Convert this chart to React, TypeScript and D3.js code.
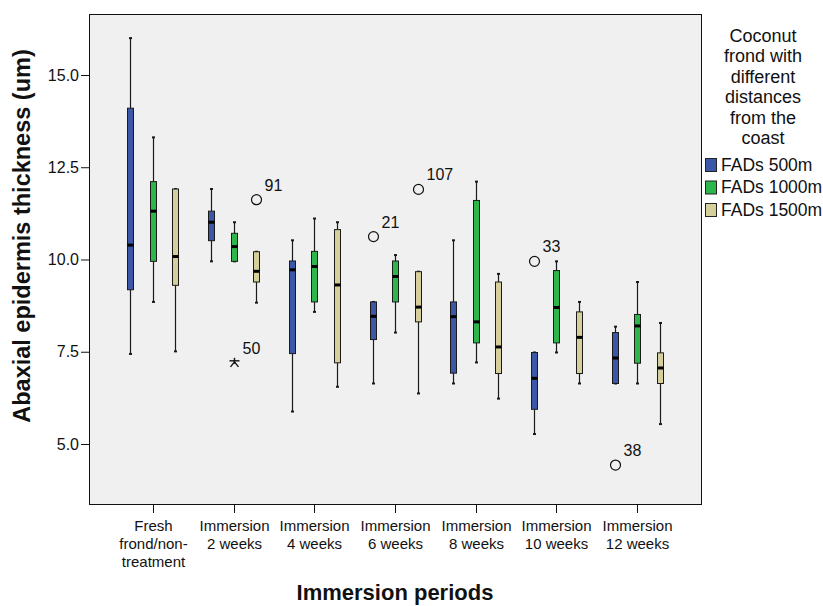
import * as d3 from "d3";
import { useRef, useEffect } from "react";

const categoryLines = [
  ["Fresh", "frond/non-", "treatment"],
  ["Immersion", "2 weeks"],
  ["Immersion", "4 weeks"],
  ["Immersion", "6 weeks"],
  ["Immersion", "8 weeks"],
  ["Immersion", "10 weeks"],
  ["Immersion", "12 weeks"],
];
const categories = categoryLines.map((l) => l.join(" "));

const seriesNames = ["FADs 500m", "FADs 1000m", "FADs 1500m"];
const seriesColors = ["#3c57a7", "#2cb64b", "#d5d09b"];

// [min, q1, median, q3, max] per category
const fads500 = [
  [7.44, 9.18, 10.39, 14.1, 16.0],
  [9.95, 10.51, 11.01, 11.31, 11.91],
  [5.88, 7.45, 9.72, 9.96, 10.52],
  [6.64, 7.83, 8.46, 8.85, 8.85],
  [6.64, 6.92, 8.45, 8.85, 10.52],
  [5.27, 5.94, 6.78, 7.48, 7.48],
  [6.64, 6.64, 7.33, 8.02, 8.18],
];
const fads1000 = [
  [8.85, 9.95, 11.31, 12.11, 13.31],
  [9.95, 9.95, 10.35, 10.71, 11.01],
  [8.58, 8.85, 9.81, 10.22, 11.11],
  [8.02, 8.85, 9.54, 9.96, 10.12],
  [7.21, 7.74, 8.31, 11.6, 12.11],
  [7.48, 7.74, 8.7, 9.7, 9.95],
  [6.64, 7.19, 8.2, 8.51, 9.39],
];
const fads1500 = [
  [7.51, 9.3, 10.08, 11.91, 11.91],
  [8.83, 9.39, 9.68, 10.21, 10.21],
  [6.55, 7.2, 9.31, 10.81, 11.01],
  [6.37, 8.31, 8.71, 9.67, 9.67],
  [6.23, 6.91, 7.63, 9.39, 9.61],
  [6.64, 6.91, 7.89, 8.58, 8.85],
  [5.54, 6.64, 7.06, 7.47, 8.28],
];
const seriesStats = [fads500, fads1000, fads1500];

// outliers: category index, series index, value, case label, kind
const outlierCategory = [1, 1, 3, 3, 5, 6];
const outlierSeries = [2, 1, 0, 2, 0, 0];
const outlierValue = [11.62, 7.2, 10.62, 11.9, 9.95, 4.43];
const outlierLabel = ["91", "50", "21", "107", "33", "38"];
const outlierKind = ["circle", "star", "circle", "circle", "circle", "circle"];

const yTicks = [5, 7.5, 10, 12.5, 15];
const legendTitle = ["Coconut", "frond with", "different", "distances", "from the", "coast"];

const font = "Arial, 'Liberation Sans', sans-serif";

export default function App() {
  const width = 823;
  const height = 606;
  const marginLeft = 89;
  const marginRight = 122;
  const marginTop = 14;
  const marginBottom = 102;

  const x = d3
    .scaleBand(categories, [marginLeft, width - marginRight])
    .paddingOuter(0.29);
  const s = d3.scalePoint(seriesNames, [-22.5, 22.5]);
  const y = d3.scaleLinear([3.374, 16.653], [height - marginBottom, marginTop]);
  const cx = (ci: number, si: number) =>
    Math.round(x(categories[ci])! + x.bandwidth() / 2 + s(seriesNames[si])!);

  const gy = useRef<SVGGElement>(null);
  useEffect(() => {
    const g = d3.select(gy.current!);
    g.call(
      d3
        .axisLeft(y)
        .tickValues(yTicks)
        .tickFormat(d3.format(".1f"))
        .tickSize(8)
        .tickPadding(2)
    );
    g.select(".domain").remove();
    g.selectAll("text")
      .attr("font-size", 16)
      .attr("font-family", font)
      .attr("fill", "#111");
    g.selectAll("line").attr("stroke", "#111");
  }, []);

  const bw = 6;

  return (
    <div style={{ position: "absolute", left: 0, top: 0 }}>
      <svg width={width} height={height} style={{ display: "block", background: "#fff" }}>
        <rect
          x={marginLeft + 0.5}
          y={marginTop + 0.5}
          width={width - marginRight - marginLeft}
          height={height - marginBottom - marginTop}
          fill="#f0f0f0"
          stroke="#111"
          strokeWidth={1}
        />
        <g ref={gy} transform={`translate(${marginLeft},0)`} />

        {/* x ticks and labels */}
        <g fontFamily={font} fontSize={15} fill="#111" textAnchor="middle">
          {categoryLines.map((lines, i) => {
            const px = Math.round(x(categories[i])! + x.bandwidth() / 2) + 0.5;
            return (
              <g key={i}>
                <line
                  x1={px}
                  x2={px}
                  y1={height - marginBottom}
                  y2={height - marginBottom + 9}
                  stroke="#111"
                />
                {lines.map((t, j) => (
                  <text key={j} x={px} y={531 + j * 18}>
                    {t}
                  </text>
                ))}
              </g>
            );
          })}
        </g>

        {/* boxes */}
        {seriesStats.map((stats, si) => (
          <g key={si}>
            {stats.map(([mn, q1, md, q3, mx], ci) => {
              const c = cx(ci, si) + 0.5;
              return (
                <g key={ci} stroke="#1a1a1a">
                  <line x1={c} x2={c} y1={y(q3)} y2={y(mx)} strokeWidth={1.2} />
                  <line x1={c} x2={c} y1={y(q1)} y2={y(mn)} strokeWidth={1.2} />
                  <line x1={c - 1.5} x2={c + 1.5} y1={y(mx)} y2={y(mx)} strokeWidth={2} />
                  <line x1={c - 1.5} x2={c + 1.5} y1={y(mn)} y2={y(mn)} strokeWidth={2} />
                  <rect
                    x={c - bw / 2}
                    y={y(q3)}
                    width={bw}
                    height={y(q1) - y(q3)}
                    fill={seriesColors[si]}
                    strokeWidth={1}
                  />
                  <line
                    x1={c - bw / 2}
                    x2={c + bw / 2}
                    y1={y(md)}
                    y2={y(md)}
                    stroke="#000"
                    strokeWidth={3}
                  />
                </g>
              );
            })}
          </g>
        ))}

        {/* outliers */}
        <g fontFamily={font} fontSize={16} fill="#111">
          {outlierValue.map((v, i) => {
            const c = cx(outlierCategory[i], outlierSeries[i]) + 0.5;
            const py = y(v);
            return (
              <g key={i}>
                {outlierKind[i] === "circle" ? (
                  <circle cx={c} cy={py} r={5} fill="none" stroke="#111" strokeWidth={1.2} />
                ) : (
                  <g stroke="#111" strokeWidth={1.4}>
                    <line x1={c} x2={c} y1={py - 5} y2={py + 1} />
                    <line x1={c - 5} x2={c + 5} y1={py - 2} y2={py - 2} />
                    <line x1={c} x2={c - 4} y1={py - 1} y2={py + 4} />
                    <line x1={c} x2={c + 4} y1={py - 1} y2={py + 4} />
                  </g>
                )}
                <text x={c + 8} y={py - 9}>
                  {outlierLabel[i]}
                </text>
              </g>
            );
          })}
        </g>

        {/* axis titles */}
        <text
          transform={`translate(30,${(marginTop + height - marginBottom) / 2 - 23}) rotate(-90)`}
          textAnchor="middle"
          fontFamily={font}
          fontWeight="bold"
          fontSize={23.5}
          fill="#111"
        >
          Abaxial epidermis thickness (um)
        </text>
        <text
          x={395}
          y={600}
          textAnchor="middle"
          fontFamily={font}
          fontWeight="bold"
          fontSize={22}
          fill="#111"
        >
          Immersion periods
        </text>

        {/* legend */}
        <g fontFamily={font} fill="#111">
          {legendTitle.map((t, i) => (
            <text key={i} x={763} y={42 + i * 20.4} textAnchor="middle" fontSize={18}>
              {t}
            </text>
          ))}
          {seriesNames.map((n, i) => (
            <g key={n} transform={`translate(705,${158 + i * 22.5})`}>
              <rect x={0.5} y={0.5} width={11} height={13} fill={seriesColors[i]} stroke="#222" />
              <text x={16} y={12.5} fontSize={17.5}>
                {n}
              </text>
            </g>
          ))}
        </g>
      </svg>
    </div>
  );
}
